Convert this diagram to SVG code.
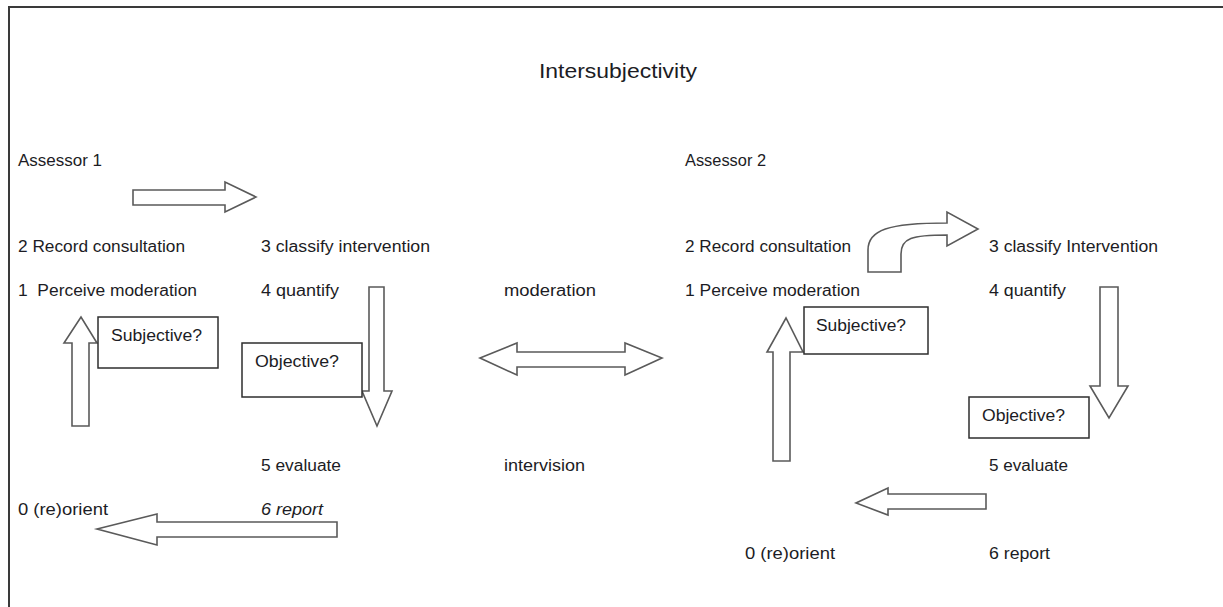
<svg xmlns="http://www.w3.org/2000/svg" width="1223" height="607" viewBox="0 0 1223 607">
  <style>
    text { font-family: "Liberation Sans", Arial, sans-serif; font-size: 16px; fill: #1c1c24; }
    .title { font-size: 20px; }
    .it { font-style: italic; }
    .arrow { fill: #ffffff; stroke: #5a5a5a; stroke-width: 1.6; stroke-linejoin: miter; }
    .box { fill: #ffffff; stroke: #2e2e2e; stroke-width: 1.5; }
    .frame { stroke: #3a3a3a; stroke-width: 2; fill: none; }
  </style>

  <rect width="1223" height="607" fill="#ffffff"/>
  <!-- page frame: top and left edges -->
  <path class="frame" d="M9,607 L9,7 L1223,7"/>

  <text class="title" x="539" y="78" textLength="158" lengthAdjust="spacingAndGlyphs">Intersubjectivity</text>

  <!-- connectors: block arrows -->
  <g id="connectors">
    <!-- assessor 1: record -> classify -->
    <polygon class="arrow" points="133,190 225,190 225,182 256,197 225,212 225,205 133,205"/>
    <!-- assessor 1: quantify -> evaluate -->
    <polygon class="arrow" points="369,287 384,287 384,391 392,391 377,426 362,391 369,391"/>
    <!-- assessor 1: report -> (re)orient -->
    <polygon class="arrow" points="337,522 157,522 157,514 97,529 157,545 157,537 337,537"/>
    <!-- assessor 1: (re)orient -> perceive -->
    <polygon class="arrow" points="72,426 89,426 89,343 97,343 81,317 64,343 72,343"/>
    <!-- moderation / intervision between assessors -->
    <polygon class="arrow" points="480,358 517,343 517,352 625,352 625,343 662,358 625,375 625,367 517,367 517,375"/>
    <!-- assessor 2: record -> classify (bent arrow) -->
    <path class="arrow" d="M868,272 L868,250 C868,230 888,223 947,223 L947,212 L978,229 L947,246 L947,235 C912,235 901,238 901,254 L901,272 Z"/>
    <!-- assessor 2: quantify -> evaluate -->
    <polygon class="arrow" points="1100,287 1118,287 1118,386 1128,386 1109,418 1090,386 1100,386"/>
    <!-- assessor 2: evaluate -> (re)orient -->
    <polygon class="arrow" points="986,494 888,494 888,488 856,503 888,515 888,509 986,509"/>
    <!-- assessor 2: (re)orient -> perceive -->
    <polygon class="arrow" points="773,461 790,461 790,352 803,352 786,318 767,352 773,352"/>
  </g>

  <!-- assessor 1 -->
  <g id="assessor1-label"><text x="18" y="166" textLength="84" lengthAdjust="spacingAndGlyphs">Assessor 1</text></g>
  <g id="a1-record"><text x="18" y="252" textLength="167" lengthAdjust="spacingAndGlyphs">2 Record consultation</text></g>
  <g id="a1-classify"><text x="261" y="252" textLength="169" lengthAdjust="spacingAndGlyphs">3 classify intervention</text></g>
  <g id="a1-perceive"><text x="18" y="296" textLength="179" lengthAdjust="spacingAndGlyphs" xml:space="preserve">1  Perceive moderation</text></g>
  <g id="a1-quantify"><text x="261" y="296" textLength="78" lengthAdjust="spacingAndGlyphs">4 quantify</text></g>
  <g id="a1-subjective">
    <rect class="box" x="98" y="317" width="120" height="51"/>
    <text x="111" y="341" textLength="91" lengthAdjust="spacingAndGlyphs">Subjective?</text>
  </g>
  <g id="a1-objective">
    <rect class="box" x="242" y="343" width="120" height="54"/>
    <text x="255" y="367" textLength="84" lengthAdjust="spacingAndGlyphs">Objective?</text>
  </g>
  <g id="a1-evaluate"><text x="261" y="471" textLength="80" lengthAdjust="spacingAndGlyphs">5 evaluate</text></g>
  <g id="a1-report"><text class="it" x="261" y="515" textLength="62" lengthAdjust="spacingAndGlyphs">6 report</text></g>
  <g id="a1-orient"><text x="18" y="515" textLength="90" lengthAdjust="spacingAndGlyphs">0 (re)orient</text></g>

  <!-- between assessors -->
  <g id="moderation"><text x="504" y="296" textLength="92" lengthAdjust="spacingAndGlyphs">moderation</text></g>
  <g id="intervision"><text x="504" y="471" textLength="81" lengthAdjust="spacingAndGlyphs">intervision</text></g>

  <!-- assessor 2 -->
  <g id="assessor2-label"><text x="685" y="166" textLength="81" lengthAdjust="spacingAndGlyphs">Assessor 2</text></g>
  <g id="a2-record"><text x="685" y="252" textLength="166" lengthAdjust="spacingAndGlyphs">2 Record consultation</text></g>
  <g id="a2-classify"><text x="989" y="252" textLength="169" lengthAdjust="spacingAndGlyphs">3 classify Intervention</text></g>
  <g id="a2-perceive"><text x="685" y="296" textLength="175" lengthAdjust="spacingAndGlyphs">1 Perceive moderation</text></g>
  <g id="a2-quantify"><text x="989" y="296" textLength="77" lengthAdjust="spacingAndGlyphs">4 quantify</text></g>
  <g id="a2-subjective">
    <rect class="box" x="804" y="307" width="124" height="47"/>
    <text x="816" y="331" textLength="90" lengthAdjust="spacingAndGlyphs">Subjective?</text>
  </g>
  <g id="a2-objective">
    <rect class="box" x="969" y="397" width="120" height="41"/>
    <text x="982" y="421" textLength="83" lengthAdjust="spacingAndGlyphs">Objective?</text>
  </g>
  <g id="a2-evaluate"><text x="989" y="471" textLength="79" lengthAdjust="spacingAndGlyphs">5 evaluate</text></g>
  <g id="a2-orient"><text x="745" y="559" textLength="90" lengthAdjust="spacingAndGlyphs">0 (re)orient</text></g>
  <g id="a2-report"><text x="989" y="559" textLength="61" lengthAdjust="spacingAndGlyphs">6 report</text></g>
</svg>
